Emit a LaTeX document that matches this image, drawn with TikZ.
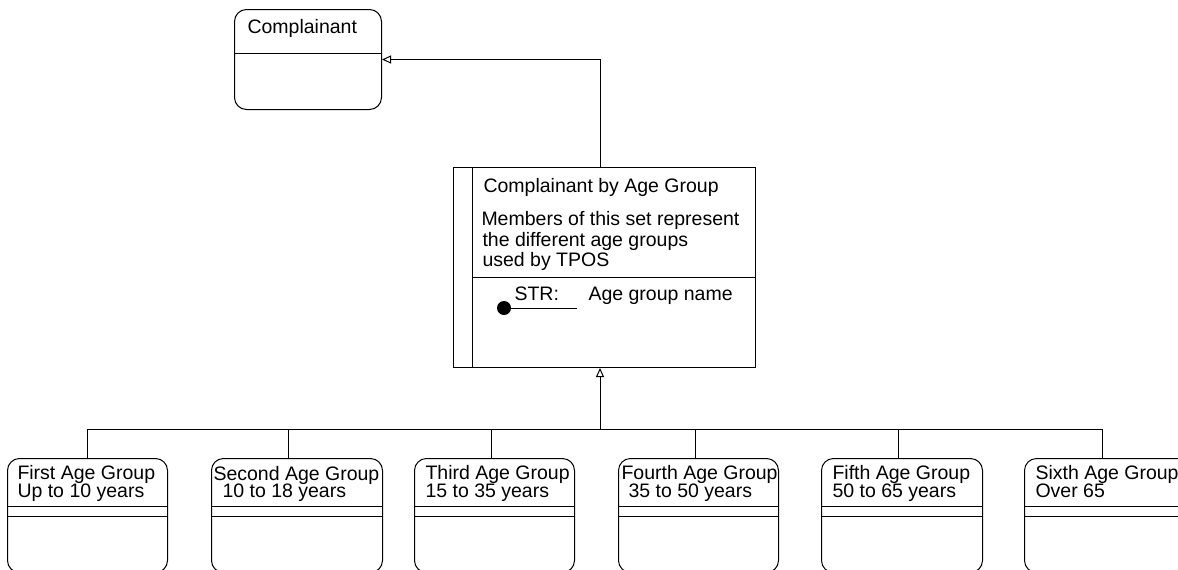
\documentclass[tikz,border=0pt]{standalone}
\usepackage{fontspec}
\setmainfont{Liberation Sans}
\usetikzlibrary{arrows.meta,calc}
\begin{document}
\begin{tikzpicture}[x=1pt,y=-1pt,line width=1pt,
  lbl/.style={anchor=base west,inner sep=0pt,font=\fontsize{19.5}{20}\selectfont},
  entity/.style={draw,rounded corners=12pt,anchor=north west,inner sep=0pt},
  subset/.style={entity,minimum width=#1,minimum height=114pt},
  gen/.style={-{Triangle[open,length=9pt,width=8pt]}}]
\useasboundingbox (0,0) rectangle (1178,570);

% supertype
\node[entity,minimum width=147pt,minimum height=100pt] (comp) at (234,9) {};
\draw ($(comp.north west)+(0,44)$) -- ($(comp.north east)+(0,44)$);
\node[lbl] (compT) at (247,33) {Complainant};

% set entity
\node[draw,anchor=north west,inner sep=0pt,minimum width=302pt,minimum height=200pt] (set) at (453,167) {};
\draw ($(set.north west)+(19,0)$) -- ($(set.south west)+(19,0)$);
\draw ($(set.north west)+(19,110)$) -- ($(set.north east)+(0,110)$);
\node[lbl] (setT) at (483,192) {Complainant by Age Group};
\node[lbl] (setD1) at (481,225) {Members of this set represent};
\node[lbl] (setD2) at (482,246) {the different age groups};
\node[lbl] (setD3) at (482,266) {used by TPOS};
\node[circle,fill,inner sep=0pt,minimum size=14pt] (key) at (504,308) {};
\coordinate (keyEnd) at (577,308);
\draw (key.center) -- (keyEnd);
\node[lbl] (attrT) at (514,300) {STR:};
\node[lbl] (attrN) at (588,300) {Age group name};

% subtypes
\node[subset=160pt] (b1) at (7,458) {};
\node[subset=171pt] (b2) at (211,458) {};
\node[subset=160pt] (b3) at (414,458) {};
\node[subset=160pt] (b4) at (618,458) {};
\node[subset=161pt] (b5) at (821,458) {};
\node[subset=170pt] (b6) at (1024,458) {};
\foreach \b in {b1,b2,b3,b4,b5,b6}{
  \draw ($(\b.north west)+(0,48)$) -- ($(\b.north east)+(0,48)$);
  \draw ($(\b.north west)+(0,58)$) -- ($(\b.north east)+(0,58)$);
}
\node[lbl] (b1a) at (17,479) {First Age Group};
\node[lbl] (b1b) at (17,497) {Up to 10 years};
\node[lbl] (b2a) at (213,480) {Second Age Group};
\node[lbl] (b2b) at (222,497) {10 to 18 years};
\node[lbl] (b3a) at (425,479) {Third Age Group};
\node[lbl] (b3b) at (425,497) {15 to 35 years};
\node[lbl] (b4a) at (621,479) {Fourth Age Group};
\node[lbl] (b4b) at (628,497) {35 to 50 years};
\node[lbl] (b5a) at (832,479) {Fifth Age Group};
\node[lbl] (b5b) at (832,497) {50 to 65 years};
\node[lbl] (b6a) at (1035,479) {Sixth Age Group};
\node[lbl] (b6b) at (1035,497) {Over 65};

% generalisation of the set to the supertype
\coordinate (up) at (600,167);
\draw[gen] (up) |- (comp.east);

% generalisation of the subtypes to the set
\coordinate (hub) at (600,429);
\draw[gen] (hub) -- (hub |- set.south);
\coordinate (j1) at (87,429);
\coordinate (j2) at (288,429);
\coordinate (j3) at (491,429);
\coordinate (j4) at (695,429);
\coordinate (j5) at (898,429);
\coordinate (j6) at (1102,429);
\draw (j1) -- (j6);
\foreach \i in {1,...,6}{
  \draw (j\i) -- (j\i |- b\i.north);
}
\end{tikzpicture}
\end{document}
